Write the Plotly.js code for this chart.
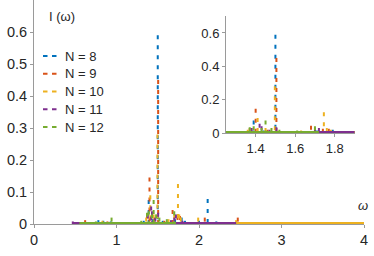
<!DOCTYPE html>
<html><head><meta charset="utf-8">
<script src="https://cdn.plot.ly/plotly-3.0.1.min.js"></script>
<style>html,body{margin:0;padding:0;background:#fff}#chart{width:374px;height:256px}</style>
</head><body><div id="chart"></div>
<script>
// ---- data ----
const seriesNames = ['N = 8', 'N = 9', 'N = 10', 'N = 11', 'N = 12'];
const seriesColors = ['#0072BD', '#D95319', '#EDB120', '#7E2F8E', '#77AC30'];

const freq8 = [0.78, 0.84, 0.93, 1.33, 1.39, 1.44, 1.50, 1.56, 1.71, 1.79, 1.83, 2.00, 2.105, 2.21];
const int8  = [0.012, 0.010, 0.008, 0.010, 0.075, 0.015, 0.590, 0.010, 0.015, 0.020, 0.010, 0.010, 0.078, 0.008];

const freq9 = [0.62, 0.89, 1.37, 1.40, 1.46, 1.505, 1.58, 1.68, 1.74, 1.77, 2.07, 2.47];
const int9  = [0.012, 0.008, 0.030, 0.145, 0.020, 0.450, 0.010, 0.044, 0.025, 0.025, 0.020, 0.020];

const freq10 = [0.83, 1.36, 1.41, 1.45, 1.497, 1.63, 1.70, 1.745, 1.76, 1.78, 1.99, 2.45, 3.00];
const int10  = [0.010, 0.020, 0.090, 0.030, 0.280, 0.015, 0.030, 0.125, 0.030, 0.020, 0.020, 0.012, 0.004];

const freq11 = [0.47, 1.38, 1.42, 1.43, 1.47, 1.505, 1.66, 1.70, 1.72, 1.80];
const int11  = [0.008, 0.030, 0.055, 0.040, 0.020, 0.035, 0.012, 0.020, 0.030, 0.010];

const freq12 = [0.75, 0.94, 1.30, 1.37, 1.39, 1.43, 1.45, 1.48, 1.52, 1.61, 1.70];
const int12  = [0.008, 0.020, 0.010, 0.035, 0.040, 0.030, 0.075, 0.030, 0.020, 0.015, 0.040];

// frequency span covered by each spectrum's dense weak lines
const bandLo = [0.75, 0.60, 0.60, 0.47, 0.55];
const bandHi = [2.30, 2.50, 4.00, 2.45, 1.72];

const mainXTicks = [0, 1, 2, 3, 4];
const mainYTicks = [0, 0.1, 0.2, 0.3, 0.4, 0.5, 0.6];
const insetXTicks = [1.4, 1.6, 1.8];
const insetYTicks = [0, 0.2, 0.4, 0.6];

// ---- build ----
const freqs = [freq8, freq9, freq10, freq11, freq12];
const ints = [int8, int9, int10, int11, int12];
const W = 374, H = 256, M = {l: 34, r: 10, t: 0, b: 32};
const PW = W - M.l - M.r, PH = H - M.t - M.b;
const px = v => (v - M.l) / PW;
const py = v => (H - M.b - v) / PH;
const FONT = 'Liberation Sans, Arial, sans-serif';
const DASH = '4px,6px';

function sticks(f, v) {
  const x = [], y = [];
  f.forEach((fi, i) => { x.push(fi, fi, null); y.push(v[i], 0, null); });
  return {x, y};
}

const traces = [];
[['x', 'y'], ['x2', 'y2']].forEach(([xa, ya]) => {
  freqs.forEach((f, k) => {
    traces.push({
      type: 'scatter', mode: 'lines', xaxis: xa, yaxis: ya, showlegend: false, hoverinfo: 'skip',
      x: [bandLo[k], bandHi[k]], y: [0, 0],
      line: {color: seriesColors[k], width: 4}
    });
    const s = sticks(f, ints[k]);
    traces.push({
      type: 'scatter', mode: 'lines', xaxis: xa, yaxis: ya, showlegend: false, hoverinfo: 'skip',
      name: seriesNames[k], x: s.x, y: s.y, connectgaps: false,
      line: {color: seriesColors[k], width: 2, dash: DASH}
    });
  });
});

const axBase = {
  showline: true, linecolor: '#9a9a9a', linewidth: 1, ticks: 'outside', ticklen: 3,
  tickcolor: '#9a9a9a', showgrid: false, zeroline: false, fixedrange: true
};

const shapes = [], annotations = [];
seriesNames.forEach((n, k) => {
  const yy = 56 + 17.75 * k;
  shapes.push({type: 'line', xref: 'paper', yref: 'paper', x0: px(43), x1: px(57), y0: py(yy), y1: py(yy),
    line: {color: seriesColors[k], width: 2, dash: '4.5px,4.5px'}});
  annotations.push({xref: 'paper', yref: 'paper', x: px(63), y: py(yy), xanchor: 'left', yanchor: 'middle',
    text: n, showarrow: false, font: {family: FONT, size: 13, color: '#262626'}});
});
annotations.push({xref: 'paper', yref: 'paper', x: px(47), y: py(17), xanchor: 'left', yanchor: 'middle',
  text: 'I (ω)', showarrow: false, font: {family: FONT, size: 13, color: '#262626'}});
annotations.push({xref: 'paper', yref: 'paper', x: px(363), y: py(205), xanchor: 'center', yanchor: 'middle',
  text: '<i>ω</i>', showarrow: false, font: {family: FONT, size: 13, color: '#262626'}});

const layout = {
  width: W, height: H, margin: M, paper_bgcolor: '#fff', plot_bgcolor: 'rgba(0,0,0,0)',
  showlegend: false, font: {family: FONT, color: '#262626'},
  xaxis: Object.assign({}, axBase, {domain: [0, 1], range: [0, 4], tickvals: mainXTicks, tickfont: {size: 14.5, color: '#262626'}}),
  yaxis: Object.assign({}, axBase, {domain: [0, 1], range: [0, 0.7], tickvals: mainYTicks, tickfont: {size: 14.5, color: '#262626'}}),
  xaxis2: Object.assign({}, axBase, {anchor: 'y2', domain: [px(226), px(354.5)], range: [1.25, 1.9], tickvals: insetXTicks, tickfont: {size: 13, color: '#262626'}}),
  yaxis2: Object.assign({}, axBase, {anchor: 'x2', domain: [py(133), py(16.3)], range: [0, 0.7], tickvals: insetYTicks, tickfont: {size: 13, color: '#262626'}}),
  shapes, annotations
};

Plotly.newPlot('chart', traces, layout, {staticPlot: true, displayModeBar: false});
</script>
</body></html>
